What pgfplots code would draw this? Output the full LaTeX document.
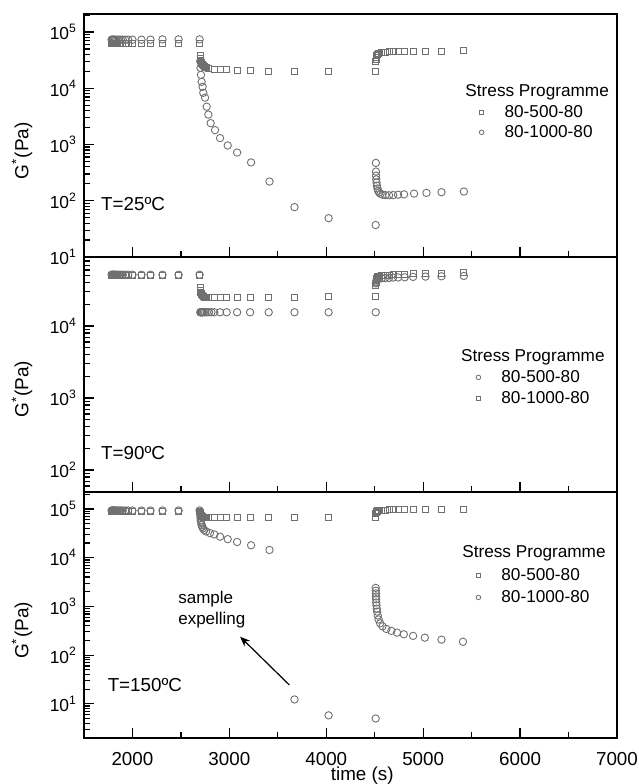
\documentclass[border=0pt]{standalone}
\usepackage{fontspec}
\setmainfont{Liberation Sans}
\usepackage{pgfplots}
\pgfplotsset{compat=1.18}
\usetikzlibrary{arrows.meta}
\definecolor{mk}{HTML}{707070}

\pgfplotsset{
  panel/.style={
    scale only axis, width=266.5pt,
    xmin=1500, xmax=7000,
    xtick={2000,3000,4000,5000,6000,7000}, minor x tick num=1,
    ytick={1,10,100,1000,10000,100000,1000000},
    yticklabel={10\textsuperscript{\pgfmathparse{int(round(\tick/2.302585093))}\pgfmathresult}},
    tick align=inside, tick pos=left,
    major tick length=5pt, minor tick length=2.8pt,
    every tick/.style={black, line width=0.6pt},
    axis line style={line width=0.9pt},
    yticklabel style={font=\fontsize{8.7}{10}\selectfont},
    xticklabel style={font=\fontsize{9.4}{11}\selectfont, yshift=-3.5pt},
    ylabel={G\textsuperscript{*}(Pa)},
    every axis y label/.style={at={(axis description cs:0,0.437)}, rotate=90, anchor=center, yshift=31pt, font=\fontsize{9.5}{11}\selectfont},
    legend cell align=left,
    legend image code/.code={\path[draw=none, fill=none] (0pt,0pt) -- (13.5pt,0pt); \draw[##1] plot coordinates {(3pt,0pt)};},
    legend style={draw=none, fill=none, inner sep=0pt, anchor=north west, font=\fontsize{8.6}{10}\selectfont,
      nodes={inner sep=1pt, text height=6.5pt, text depth=1.5pt}},
  },
  sq/.style={only marks, mark=square, color=mk, mark size=1.5pt, mark options={line width=0.45pt}, forget plot},
  ci/.style={only marks, mark=o, color=mk, mark size=1.85pt, mark options={line width=0.45pt}, forget plot},
}

\begin{document}
\begin{tikzpicture}
% ---- T = 25 C ----
\begin{semilogyaxis}[panel, at={(0pt,240.5pt)}, anchor=south west, height=121.5pt,
  ymin=10, ymax=2.09e5, xticklabels={}, legend style={at={(0.734,0.638)}}]
\addplot[ci] coordinates {(1785,7.3e4) (1790,7.3e4) (1796,7.3e4) (1803,7.3e4) (1811,7.3e4) (1820,7.3e4) (1832,7.3e4) (1846,7.3e4) (1862,7.3e4) (1880,7.3e4) (1900,7.3e4) (1925,7.3e4) (1955,7.3e4) (2000,7.3e4) (2093,7.3e4) (2186,7.3e4) (2310,7.4e4) (2476,7.4e4) (2693,7.4e4)
 (2700,3.0e4) (2702,2.3e4) (2707,1.73e4) (2714,1.3e4) (2724,1.06e4) (2731,8300) (2749,6800) (2766,4700) (2783,3400) (2807,2400) (2852,1800) (2904,1300) (2983,960) (3080,720) (3224,480) (3414,220) (3672,77) (4024,49) (4510,37)
 (4512,470) (4513,330) (4514,280) (4516,240) (4519,210) (4523,185) (4528,165) (4535,150) (4545,140) (4560,133) (4580,128) (4610,126) (4648,125) (4690,126) (4741,128) (4803,130) (4906,134) (5034,138) (5189,142) (5420,146)};
\addplot[sq] coordinates {(1785,6.3e4) (1790,6.3e4) (1796,6.3e4) (1803,6.3e4) (1811,6.3e4) (1820,6.3e4) (1832,6.3e4) (1846,6.3e4) (1862,6.3e4) (1880,6.3e4) (1900,6.3e4) (1925,6.3e4) (1955,6.3e4) (2000,6.3e4) (2093,6.3e4) (2186,6.3e4) (2310,6.3e4) (2476,6.3e4) (2693,6.3e4)
 (2700,3.8e4) (2702,3.4e4) (2705,3.1e4) (2709,2.9e4) (2714,2.75e4) (2720,2.6e4) (2728,2.5e4) (2738,2.42e4) (2750,2.35e4) (2765,2.3e4) (2786,2.25e4) (2845,2.2e4) (2904,2.18e4) (2972,2.15e4) (3080,2.1e4) (3214,2.05e4) (3406,2.02e4) (3672,1.98e4) (4024,1.97e4) (4510,2.0e4)
 (4512,3.0e4) (4514,3.3e4) (4517,3.6e4) (4521,3.8e4) (4526,3.95e4) (4532,4.05e4) (4540,4.15e4) (4572,4.3e4) (4606,4.4e4) (4648,4.45e4) (4689,4.48e4) (4741,4.5e4) (4810,4.52e4) (4896,4.55e4) (5024,4.57e4) (5189,4.6e4) (5420,4.65e4)};
\addlegendimage{mark=square, mark size=1.05pt, mk, line width=0.4pt}
\addlegendentry{80-500-80}
\addlegendimage{mark=o, mark size=1.15pt, mk, line width=0.4pt}
\addlegendentry{80-1000-80}
\node[anchor=west, inner sep=0pt, font=\fontsize{8.6}{10}\selectfont] at (rel axis cs:0.715,0.679) {Stress Programme};
\node[anchor=west, inner sep=0pt, font=\fontsize{9.4}{11}\selectfont] at (axis cs:1673,86.8) {T=25ºC};
\end{semilogyaxis}

% ---- T = 90 C ----
\begin{semilogyaxis}[panel, at={(0pt,123pt)}, anchor=south west, height=117.5pt,
  ymin=49.4, ymax=9.08e4, xticklabels={}, legend style={at={(0.728,0.532)}, row sep=0.5pt}]
\addplot[sq] coordinates {(1785,5.05e4) (1790,5.05e4) (1796,5.05e4) (1803,5.05e4) (1811,5.05e4) (1820,5.05e4) (1832,5.05e4) (1846,5.05e4) (1862,5.05e4) (1880,5.05e4) (1900,5.05e4) (1925,5.05e4) (1955,5.05e4) (2000,5.05e4) (2093,5.05e4) (2186,5.05e4) (2310,5.05e4) (2476,5.05e4) (2693,5.05e4)
 (2700,3.4e4) (2702,3.1e4) (2705,2.95e4) (2709,2.8e4) (2714,2.7e4) (2720,2.62e4) (2728,2.55e4) (2738,2.5e4) (2750,2.47e4) (2765,2.45e4) (2786,2.45e4) (2845,2.45e4) (2904,2.45e4) (2972,2.45e4) (3080,2.45e4) (3214,2.47e4) (3406,2.5e4) (3672,2.52e4) (4024,2.55e4) (4510,2.6e4)
 (4512,3.7e4) (4514,4.0e4) (4517,4.3e4) (4521,4.5e4) (4526,4.65e4) (4532,4.8e4) (4540,4.9e4) (4572,5.0e4) (4606,5.05e4) (4648,5.1e4) (4689,5.15e4) (4741,5.2e4) (4810,5.25e4) (4896,5.3e4) (5024,5.35e4) (5189,5.4e4) (5420,5.5e4)};
\addplot[ci] coordinates {(1785,5.15e4) (1790,5.15e4) (1796,5.15e4) (1803,5.15e4) (1811,5.15e4) (1820,5.15e4) (1832,5.15e4) (1846,5.15e4) (1862,5.15e4) (1880,5.15e4) (1900,5.15e4) (1925,5.15e4) (1955,5.15e4) (2000,5.15e4) (2093,5.15e4) (2186,5.15e4) (2310,5.15e4) (2476,5.15e4) (2693,5.15e4)
 (2700,1.55e4) (2703,1.55e4) (2707,1.55e4) (2712,1.55e4) (2718,1.55e4) (2726,1.55e4) (2736,1.55e4) (2750,1.55e4) (2768,1.55e4) (2790,1.55e4) (2815,1.55e4) (2845,1.55e4) (2904,1.55e4) (2972,1.55e4) (3080,1.55e4) (3214,1.55e4) (3406,1.55e4) (3672,1.55e4) (4024,1.55e4) (4510,1.55e4)
 (4512,3.9e4) (4515,4.1e4) (4519,4.3e4) (4524,4.4e4) (4532,4.5e4) (4545,4.55e4) (4572,4.6e4) (4606,4.62e4) (4648,4.65e4) (4689,4.7e4) (4741,4.72e4) (4810,4.75e4) (4896,4.8e4) (5024,4.85e4) (5189,4.9e4) (5420,4.95e4)};
\addlegendimage{mark=o, mark size=1.15pt, mk, line width=0.4pt}
\addlegendentry{80-500-80}
\addlegendimage{mark=square, mark size=1.05pt, mk, line width=0.4pt}
\addlegendentry{80-1000-80}
\node[anchor=west, inner sep=0pt, font=\fontsize{8.6}{10}\selectfont] at (rel axis cs:0.707,0.574) {Stress Programme};
\node[anchor=west, inner sep=0pt, font=\fontsize{9.4}{11}\selectfont] at (axis cs:1673,174) {T=90ºC};
\end{semilogyaxis}

% ---- T = 150 C ----
\begin{semilogyaxis}[panel, at={(0pt,0pt)}, anchor=south west, height=123pt,
  ymin=1.99, ymax=2.23e5,
  xticklabels={2000,3000,4000,5000,6000,7000},
  xlabel={time (s)},
  xlabel style={at={(axis description cs:0.522,0)}, anchor=center, yshift=-19pt, font=\fontsize{9.4}{11}\selectfont},
  legend style={at={(0.728,0.703)}, row sep=1pt}]
\addplot[ci] coordinates {(1785,9.3e4) (1790,9.3e4) (1796,9.3e4) (1803,9.3e4) (1811,9.3e4) (1820,9.3e4) (1832,9.3e4) (1846,9.3e4) (1862,9.3e4) (1880,9.3e4) (1900,9.3e4) (1925,9.3e4) (1955,9.3e4) (2000,9.3e4) (2093,9.3e4) (2186,9.3e4) (2310,9.3e4) (2476,9.3e4) (2693,9.3e4)
 (2700,7.5e4) (2702,6.5e4) (2705,5.8e4) (2709,5.2e4) (2714,4.7e4) (2720,4.3e4) (2728,4.0e4) (2740,3.7e4) (2760,3.45e4) (2800,3.2e4) (2845,3.0e4) (2904,2.7e4) (2983,2.4e4) (3080,2.1e4) (3224,1.8e4) (3414,1.44e4) (3672,12.3) (4024,5.8) (4510,5.0)
 (4510,2400) (4511,2100) (4512,1850) (4513,1600) (4514,1400) (4516,1200) (4518,1050) (4521,900) (4525,780) (4531,650) (4540,540) (4556,450) (4580,390) (4620,345) (4672,315) (4730,290) (4800,268) (4896,248) (5017,228) (5189,208) (5410,188)};
\addplot[sq] coordinates {(1785,9.0e4) (1790,9.0e4) (1796,9.0e4) (1803,9.0e4) (1811,9.0e4) (1820,9.0e4) (1832,9.0e4) (1846,9.0e4) (1862,9.0e4) (1880,9.0e4) (1900,9.0e4) (1925,9.0e4) (1955,9.0e4) (2000,9.0e4) (2093,9.0e4) (2186,9.0e4) (2310,9.0e4) (2476,9.0e4) (2693,9.0e4)
 (2700,8.5e4) (2702,8.0e4) (2705,7.6e4) (2709,7.3e4) (2714,7.1e4) (2720,6.95e4) (2728,6.85e4) (2738,6.8e4) (2750,6.8e4) (2765,6.75e4) (2786,6.75e4) (2845,6.75e4) (2904,6.7e4) (2972,6.7e4) (3080,6.7e4) (3214,6.7e4) (3406,6.7e4) (3672,6.7e4) (4024,6.7e4) (4510,6.6e4)
 (4512,8.0e4) (4514,8.4e4) (4517,8.7e4) (4521,8.9e4) (4526,9.1e4) (4532,9.2e4) (4540,9.3e4) (4572,9.4e4) (4606,9.5e4) (4648,9.55e4) (4689,9.6e4) (4741,9.65e4) (4810,9.7e4) (4896,9.7e4) (5024,9.75e4) (5189,9.8e4) (5420,9.8e4)};
\addlegendimage{mark=square, mark size=1.05pt, mk, line width=0.4pt}
\addlegendentry{80-500-80}
\addlegendimage{mark=o, mark size=1.15pt, mk, line width=0.4pt}
\addlegendentry{80-1000-80}
\node[anchor=west, inner sep=0pt, font=\fontsize{8.6}{10}\selectfont] at (rel axis cs:0.709,0.752) {Stress Programme};
\node[anchor=west, inner sep=0pt, font=\fontsize{9.4}{11}\selectfont] at (axis cs:1741,24.3) {T=150ºC};
\node[anchor=west, align=left, inner sep=0pt, font=\fontsize{8.5}{10.5}\selectfont] at (axis cs:2469,863) {sample\\expelling};
\draw[-{Stealth[length=5pt,width=4pt]}, line width=0.6pt] (axis cs:3620,24.3) -- (axis cs:3111,239);
\end{semilogyaxis}

\pgfresetboundingbox
\path (-42pt,-23pt) rectangle (277.5pt,369pt);
\end{tikzpicture}
\end{document}
